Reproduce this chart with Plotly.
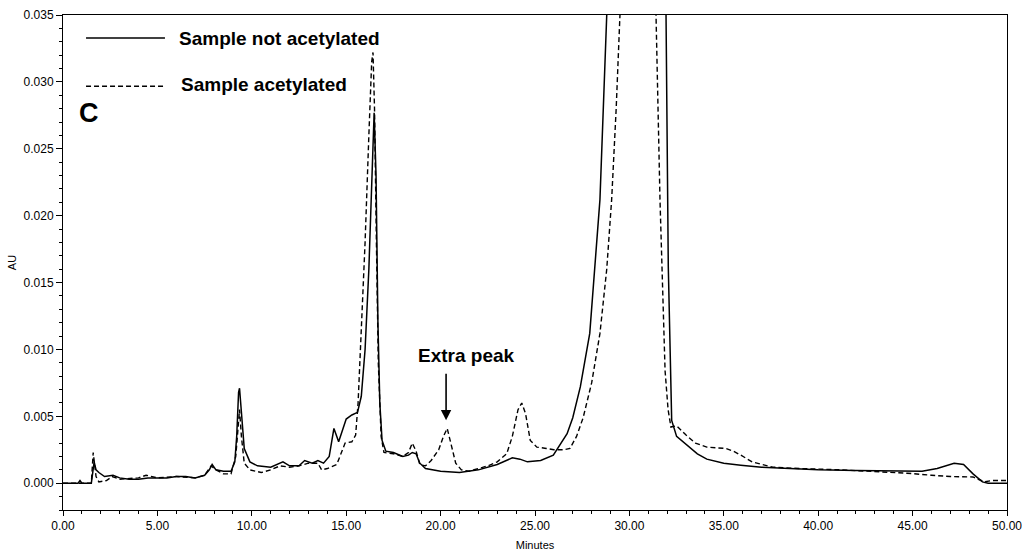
import plotly.graph_objects as go

# Sample not acetylated (solid)
t_solid = [0, 0.8, 0.9, 1.0, 1.5, 1.58, 1.65, 1.75, 1.9, 2.2, 2.5, 2.65, 3.0, 3.5, 4.0, 4.5, 5.0, 5.5,
           6.0, 6.5, 7.0, 7.5, 7.75, 7.9, 8.1, 8.5, 8.9, 9.1, 9.2, 9.3, 9.35, 9.45, 9.6, 9.9, 10.3, 11.0,
           11.5, 11.65, 12.0, 12.5, 12.8, 13.2, 13.5, 13.8, 14.1, 14.35, 14.6, 14.8, 15.0, 15.3, 15.6,
           15.8, 16.0, 16.2, 16.35, 16.48, 16.58, 16.68, 16.78, 16.9, 17.1, 17.5, 18.0, 18.3, 18.5, 18.7,
           18.9, 19.2, 20.0, 21.0, 22.0, 23.0, 23.8, 24.2, 24.6, 25.3, 25.97, 26.2, 26.7, 27.0, 27.4, 27.9,
           28.44, 28.8, 29.5, 30.4, 31.4, 31.94, 32.06, 32.24, 32.5, 33.2, 33.6, 34.1, 35.0, 35.9, 37.0,
           38.5, 40.0, 42.0, 44.0, 45.5, 46.3, 47.2, 47.7, 48.2, 48.7, 49.0, 50.0]
au_solid = [0.0, 0.0, 0.0002, 0.0, 0.0, 0.0008, 0.0016, 0.0010, 0.0008, 0.0005, 0.0006, 0.0006, 0.0004,
            0.0003, 0.0003, 0.0004, 0.0004, 0.0004, 0.0005, 0.0005, 0.0004, 0.0006, 0.0010, 0.0014, 0.0010,
            0.0009, 0.0009, 0.0016, 0.0035, 0.0068, 0.0071, 0.0050, 0.0026, 0.0016, 0.0013, 0.0012, 0.0015,
            0.0016, 0.0013, 0.0013, 0.0017, 0.0015, 0.0017, 0.0015, 0.0020, 0.0041, 0.0031, 0.0040,
            0.0048, 0.0051, 0.0053, 0.0065, 0.0100, 0.0160, 0.0220, 0.0277, 0.0230, 0.0120, 0.0060, 0.0032,
            0.0024, 0.0023, 0.0020, 0.0021, 0.0023, 0.0022, 0.0015, 0.0011, 0.0009, 0.0008, 0.0010, 0.0014,
            0.0019, 0.0018, 0.0016, 0.0017, 0.0021, 0.0026, 0.0037, 0.0049, 0.0072, 0.0112, 0.0212, 0.0350,
            0.0700, 0.0900, 0.0700, 0.0350, 0.0162, 0.0047, 0.0035, 0.0027, 0.0022, 0.0018, 0.0015, 0.00135,
            0.0012, 0.0011, 0.0010, 0.00095, 0.0009, 0.0009, 0.0011, 0.0015, 0.0014, 0.0007, 0.0001, 0.0,
            0.0]

# Sample acetylated (dashed)
t_dashed = [0, 1.5, 1.6, 1.68, 1.75, 1.9, 2.3, 2.6, 3.0, 4.0, 4.4, 5.0, 6.0, 7.0, 7.5, 7.85, 8.1, 8.5,
            8.9, 9.15, 9.3, 9.35, 9.45, 9.6, 9.9, 10.5, 11.0, 11.5, 12.0, 12.5, 13.0, 13.5, 13.7, 14.0,
            14.5, 14.94, 15.3, 15.5, 15.63, 15.8, 16.0, 16.2, 16.35, 16.42, 16.5, 16.6, 16.7, 16.85, 17.0,
            17.5, 18.0, 18.3, 18.5, 18.7, 18.9, 19.2, 19.5, 19.9, 20.15, 20.35, 20.55, 20.8, 21.1, 21.5,
            22.0, 22.5, 23.0, 23.5, 23.8, 24.1, 24.3, 24.5, 24.75, 25.1, 25.6, 26.0, 26.5, 26.85, 27.2,
            27.55, 28.0, 28.44, 28.8, 29.06, 29.3, 29.47, 29.8, 30.5, 31.1, 31.41, 31.62, 31.75, 31.89,
            32.05, 32.2, 32.5, 33.0, 33.5, 34.1, 35.1, 35.5, 35.9, 36.5, 37.6, 39.0, 41.2, 43.0, 44.7,
            46.0, 47.0, 48.2, 48.6, 48.8, 49.2, 50.0]
au_dashed = [0.0, 0.0, 0.0023, 0.0012, 0.0005, 0.0001, 0.0002, 0.0005, 0.0003, 0.0004, 0.0006, 0.0004,
             0.0005, 0.0004, 0.0006, 0.0013, 0.0010, 0.0007, 0.0007, 0.0020, 0.0050, 0.0055, 0.0035,
             0.0015, 0.0010, 0.0008, 0.0010, 0.0013, 0.0012, 0.0013, 0.0015, 0.0015, 0.0010, 0.0011,
             0.0014, 0.0030, 0.0031, 0.0036, 0.0060, 0.0110, 0.0180, 0.0260, 0.0315, 0.0322, 0.0280,
             0.0180, 0.0090, 0.0035, 0.0023, 0.0022, 0.0020, 0.0023, 0.0030, 0.0024, 0.0014, 0.0013,
             0.0017, 0.0025, 0.0035, 0.0041, 0.0030, 0.0015, 0.0010, 0.0009, 0.0011, 0.0013, 0.0016,
             0.0022, 0.0035, 0.0055, 0.0060, 0.0052, 0.0032, 0.0027, 0.0026, 0.0025, 0.0025, 0.0026,
             0.0035, 0.0049, 0.0075, 0.0112, 0.0160, 0.0212, 0.0280, 0.0350, 0.0500, 0.0700, 0.0500,
             0.0350, 0.0212, 0.0140, 0.0084, 0.0055, 0.0042, 0.0043, 0.0036, 0.0030, 0.0027, 0.0026,
             0.0024, 0.0021, 0.0016, 0.0012, 0.0011, 0.0010, 0.0009, 0.00075, 0.0006, 0.0005, 0.00047,
             0.0002, 0.0001, 0.0002, 0.0002]

x_ticks = [0, 5, 10, 15, 20, 25, 30, 35, 40, 45, 50]
y_ticks = [0.000, 0.005, 0.010, 0.015, 0.020, 0.025, 0.030, 0.035]

FONT = "Liberation Sans, Arial, Helvetica, sans-serif"
DASH = "5px,3px"

fig = go.Figure()
fig.add_trace(go.Scatter(x=t_dashed, y=au_dashed, mode="lines", name="Sample acetylated",
                         line=dict(color="black", width=1.4, dash=DASH)))
fig.add_trace(go.Scatter(x=t_solid, y=au_solid, mode="lines", name="Sample not acetylated",
                         line=dict(color="black", width=1.5)))

axis_common = dict(showline=True, linecolor="black", linewidth=1, mirror=True, showgrid=False,
                   zeroline=False, ticks="outside", tickcolor="black", automargin=False,
                   ticklabeloverflow="allow",
                   tickfont=dict(size=12, color="black", family=FONT))

fig.update_xaxes(range=[0, 50], tickvals=x_ticks, tickformat=".2f", ticklen=5,
                 minor=dict(dtick=1, ticks="outside", ticklen=3, tickcolor="black"),
                 title=dict(text="Minutes", font=dict(size=11, color="black", family=FONT), standoff=9),
                 **axis_common)
fig.update_yaxes(range=[-0.002, 0.035], tickvals=y_ticks, tickformat=".3f", ticklen=6,
                 minor=dict(dtick=0.001, ticks="outside", ticklen=3, tickcolor="black"),
                 title=dict(text="AU", font=dict(size=11, color="black", family=FONT), standoff=4),
                 **axis_common)

# Legend drawn manually
fig.add_shape(type="line", xref="paper", yref="paper", x0=0.0244, x1=0.108, y0=0.9535, y1=0.9535,
              line=dict(color="black", width=1.5))
fig.add_shape(type="line", xref="paper", yref="paper", x0=0.0244, x1=0.108, y0=0.856, y1=0.856,
              line=dict(color="black", width=1.4, dash=DASH))
fig.add_annotation(xref="paper", yref="paper", x=0.1208, y=0.9535, text="<b>Sample not acetylated</b>",
                   showarrow=False, xanchor="left", yanchor="middle", font=dict(size=19, color="black", family=FONT))
fig.add_annotation(xref="paper", yref="paper", x=0.1229, y=0.8586, text="<b>Sample acetylated</b>",
                   showarrow=False, xanchor="left", yanchor="middle", font=dict(size=19, color="black", family=FONT))
fig.add_annotation(xref="paper", yref="paper", x=0.015, y=0.802, text="<b>C</b>",
                   showarrow=False, xanchor="left", yanchor="middle", font=dict(size=27, color="black", family=FONT))

# Extra peak annotation
fig.add_annotation(x=21.35, y=0.00957, text="<b>Extra peak</b>", showarrow=False,
                   font=dict(size=19, color="black", family=FONT))
fig.add_annotation(x=20.29, y=0.0047, text="", showarrow=True, ax=0, ay=-48,
                   arrowhead=2, arrowsize=1.3, arrowwidth=1.6, arrowcolor="black")

fig.update_layout(width=1022, height=551, margin=dict(l=63, r=15, t=15, b=41),
                  paper_bgcolor="white", plot_bgcolor="white", showlegend=False,
                  font=dict(family=FONT, color="black"))

fig.write_html("out.html", config={"displayModeBar": False},
               post_script="document.body.style.margin='0';document.body.style.overflow='hidden';")
